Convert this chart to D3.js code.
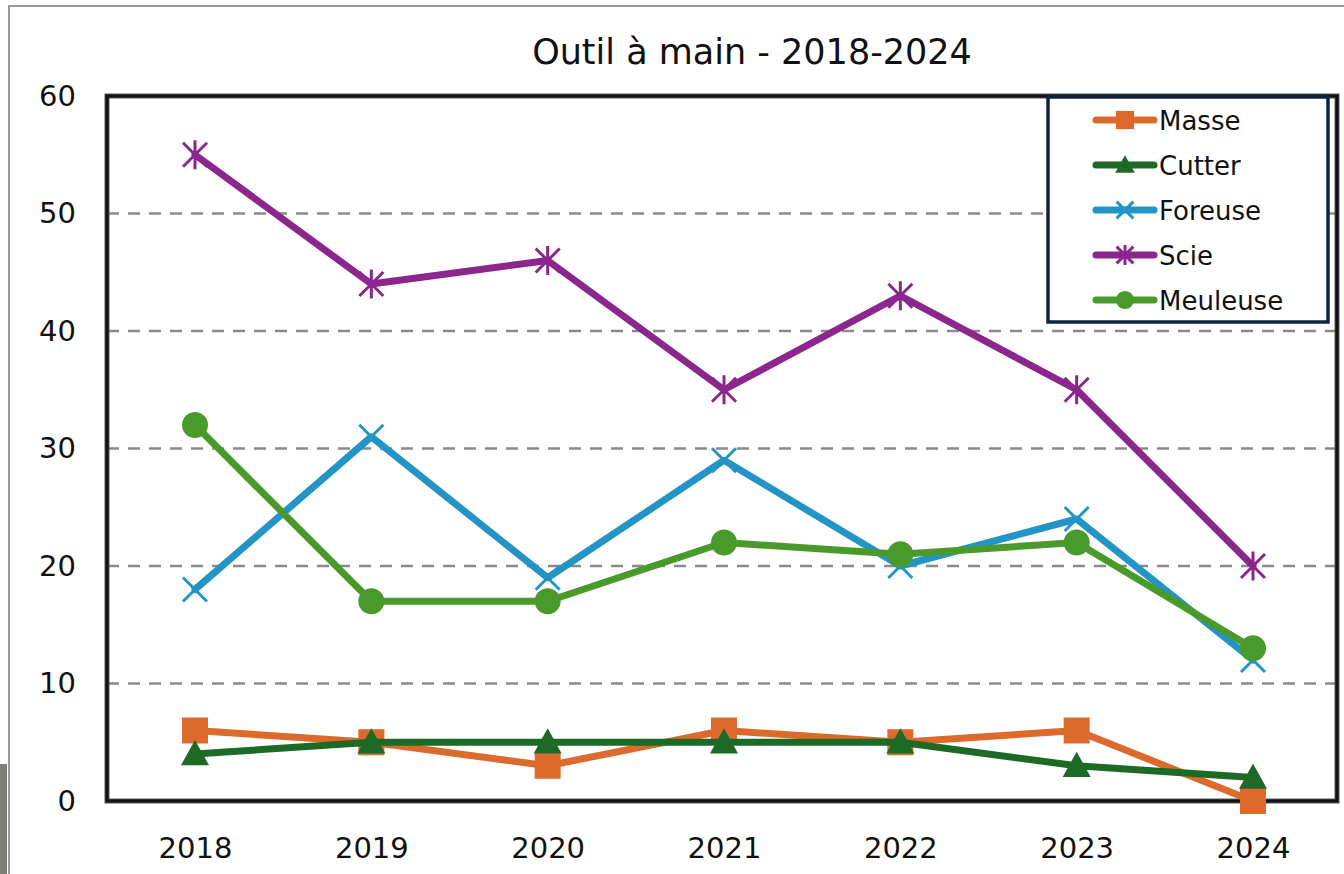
<!DOCTYPE html>
<html>
<head>
<meta charset="utf-8">
<script src="https://cdn.jsdelivr.net/npm/d3@7"></script>
<style>
  html, body { margin: 0; padding: 0; background: #fff; }
  svg { display: block; }
  text { font-family: "DejaVu Sans", Verdana, sans-serif; fill: #111; }
</style>
</head>
<body>
<svg id="chart" width="1344" height="874"></svg>
<script>
const years = ["2018", "2019", "2020", "2021", "2022", "2023", "2024"];
const yTicks = [0, 10, 20, 30, 40, 50, 60];

const masse    = [6, 5, 3, 6, 5, 6, 0];
const cutter   = [4, 5, 5, 5, 5, 3, 2];
const foreuse  = [18, 31, 19, 29, 20, 24, 12];
const scie     = [55, 44, 46, 35, 43, 35, 20];
const meuleuse = [32, 17, 17, 22, 21, 22, 13];

const seriesNames  = ["Masse", "Cutter", "Foreuse", "Scie", "Meuleuse"];
const seriesValues = [masse, cutter, foreuse, scie, meuleuse];
const seriesColors = ["#dc6a2c", "#1d6a27", "#2394c6", "#8b268d", "#4a9a2b"];
const seriesMarkers = ["square", "triangle", "x", "star", "circle"];

const W = 1344, H = 874;
const plot = { left: 107, top: 96, right: 1337, bottom: 801 };

const svg = d3.select("#chart");

// outer frame of the pasted image
svg.append("rect").attr("x", 9).attr("y", 6).attr("width", W).attr("height", H)
  .attr("fill", "#fff").attr("stroke", "#9a9a9a").attr("stroke-width", 2);
svg.append("rect").attr("x", 0).attr("y", 764).attr("width", 7).attr("height", H - 764)
  .attr("fill", "#7e7f78");

const x = d3.scalePoint().domain(years).range([195, 1253]);
const y = d3.scaleLinear().domain([0, 60]).range([plot.bottom, plot.top]);

// title
svg.append("text").attr("x", 752).attr("y", 64).attr("text-anchor", "middle")
  .style("font-size", "35px").text("Outil à main - 2018-2024");

// gridlines
svg.append("g").selectAll("line").data(yTicks.filter(d => d > 0 && d < 60)).join("line")
  .attr("x1", plot.left).attr("x2", plot.right)
  .attr("y1", d => y(d)).attr("y2", d => y(d))
  .attr("stroke", "#8a8a8a").attr("stroke-width", 2.5).attr("stroke-dasharray", "12,9");

// axes (labels only, frame drawn separately)
const yAxis = svg.append("g").attr("transform", `translate(${plot.left},0)`)
  .call(d3.axisLeft(y).tickValues(yTicks).tickSize(0).tickPadding(31));
const xAxis = svg.append("g").attr("transform", `translate(0,${plot.bottom})`)
  .call(d3.axisBottom(x).tickSize(0).tickPadding(36));
[yAxis, xAxis].forEach(a => {
  a.select(".domain").remove();
  a.selectAll("text").style("font-size", "29px").attr("fill", "#111")
    .style("font-family", "'DejaVu Sans', Verdana, sans-serif");
});

// plot frame
svg.append("rect").attr("x", plot.left).attr("y", plot.top)
  .attr("width", plot.right - plot.left).attr("height", plot.bottom - plot.top)
  .attr("fill", "none").attr("stroke", "#555").attr("stroke-width", 5);
svg.append("rect").attr("x", plot.left).attr("y", plot.top)
  .attr("width", plot.right - plot.left).attr("height", plot.bottom - plot.top)
  .attr("fill", "none").attr("stroke", "#111").attr("stroke-width", 3);

function drawMarker(g, type, color, cx, cy, s) {
  if (type === "square") {
    g.append("rect").attr("x", cx - s * 13).attr("y", cy - s * 13)
      .attr("width", s * 26).attr("height", s * 26).attr("fill", color);
  } else if (type === "triangle") {
    const r = 14 * s;
    g.append("path").attr("d", `M${cx},${cy - r}L${cx + r},${cy + r * 0.8}L${cx - r},${cy + r * 0.8}Z`)
      .attr("fill", color);
  } else if (type === "circle") {
    g.append("circle").attr("cx", cx).attr("cy", cy).attr("r", 13 * s).attr("fill", color);
  } else {
    const r = 12 * s;
    let d = `M${cx - r},${cy - r}L${cx + r},${cy + r}M${cx - r},${cy + r}L${cx + r},${cy - r}`;
    if (type === "star") d += `M${cx},${cy - r * 1.2}L${cx},${cy + r * 1.2}`;
    g.append("path").attr("d", d).attr("stroke", color).attr("stroke-width", 3).attr("fill", "none");
  }
}

const line = d3.line().x((d, i) => x(years[i])).y(d => y(d));

seriesValues.forEach((vals, si) => {
  const g = svg.append("g");
  g.append("path").datum(vals).attr("d", line)
    .attr("fill", "none").attr("stroke", seriesColors[si]).attr("stroke-width", 7)
    .attr("stroke-linejoin", "round").attr("stroke-linecap", "round");
  vals.forEach((v, i) => drawMarker(g, seriesMarkers[si], seriesColors[si], x(years[i]), y(v), 1));
});

// legend
const leg = svg.append("g");
leg.append("rect").attr("x", 1048).attr("y", 97).attr("width", 280).attr("height", 225)
  .attr("fill", "#fff").attr("stroke", "#0f2340").attr("stroke-width", 3.5);
seriesNames.forEach((name, i) => {
  const ly = 120 + i * 45;
  leg.append("line").attr("x1", 1096).attr("x2", 1154).attr("y1", ly).attr("y2", ly)
    .attr("stroke", seriesColors[i]).attr("stroke-width", 7).attr("stroke-linecap", "round");
  drawMarker(leg, seriesMarkers[i], seriesColors[i], 1125, ly, 0.7);
  leg.append("text").attr("x", 1159).attr("y", ly + 10).style("font-size", "26px").text(name);
});
</script>
</body>
</html>
